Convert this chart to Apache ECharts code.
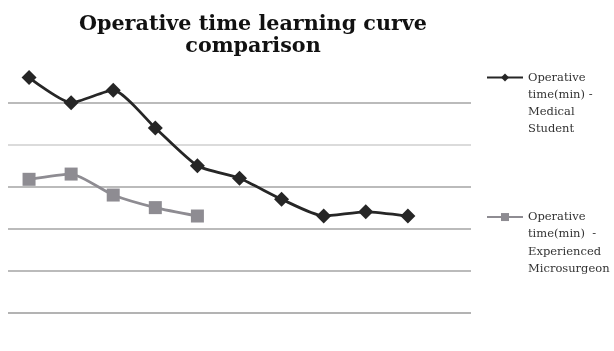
<!DOCTYPE html>
<html>
<head>
<meta charset="utf-8">
<script src="https://cdn.jsdelivr.net/npm/echarts@6/dist/echarts.min.js"></script>
<style>
  html, body { margin: 0; padding: 0; background: #fff; }
  #chart { width: 614px; height: 351px; }
</style>
</head>
<body>
<div id="chart"></div>
<script>
// Session number (1..11); the last session has no recorded times
const sessions = ['1', '2', '3', '4', '5', '6', '7', '8', '9', '10', '11'];

// Operative time in minutes per session
const medicalStudent = [112, 100, 106, 88, 70, 64, 54, 46, 48, 46, null];
const experiencedMicrosurgeon = [63.5, 66, 56, 50, 46, null, null, null, null, null, null];

const seriesNames = [
  'Operative time(min) - Medical Student',
  'Operative time(min) - Experienced Microsurgeon'
];
// Wrapped legend labels; the leading blank lines keep the marker level with the first line
const legendText = {
  [seriesNames[0]]: '\n\n\nOperative\ntime(min) -\nMedical\nStudent',
  [seriesNames[1]]: '\n\n\nOperative\ntime(min)  -\nExperienced\nMicrosurgeon'
};

const chart = echarts.init(document.getElementById('chart'), null, { renderer: 'canvas' });

const legendBase = {
  orient: 'vertical',
  left: 486,
  padding: 0,
  itemWidth: 36,
  itemHeight: 10,
  itemGap: 0,
  formatter: name => legendText[name],
  textStyle: {
    fontFamily: 'DejaVu Serif',
    fontSize: 11.5,
    color: '#333333',
    lineHeight: 17.3
  }
};

chart.setOption({
  animation: false,
  backgroundColor: '#ffffff',
  title: {
    text: 'Operative time learning curve\ncomparison',
    left: 248,
    textAlign: 'center',
    top: 9,
    textStyle: {
      fontFamily: 'DejaVu Serif',
      fontWeight: 'bold',
      fontSize: 20.7,
      lineHeight: 21.7,
      color: '#111111'
    }
  },
  legend: [
    Object.assign({}, legendBase, { top: 17, data: [seriesNames[0]] }),
    Object.assign({}, legendBase, { top: 156.5, data: [seriesNames[1]] })
  ],
  grid: { left: 8, right: 143, top: 60.8, bottom: 38.5 },
  xAxis: {
    type: 'category',
    data: sessions,
    boundaryGap: true,
    axisLine: { show: false },
    axisTick: { show: false },
    axisLabel: { show: false }
  },
  yAxis: {
    type: 'value',
    min: 0,
    max: 120,
    interval: 20,
    axisLine: { show: false },
    axisTick: { show: false },
    axisLabel: { show: false },
    splitLine: {
      show: true,
      lineStyle: {
        width: 1.5,
        color: ['#9a9a9a', '#a4a4a4', '#a4a4a4', '#a4a4a4', '#cfcfcf', '#a4a4a4', 'rgba(0,0,0,0)']
      }
    }
  },
  series: [
    {
      name: seriesNames[0],
      type: 'line',
      data: medicalStudent,
      smooth: 0.2,
      symbol: 'diamond',
      symbolSize: 15,
      lineStyle: { color: '#262626', width: 2.8 },
      itemStyle: { color: '#262626' }
    },
    {
      name: seriesNames[1],
      type: 'line',
      data: experiencedMicrosurgeon,
      smooth: 0.2,
      symbol: 'rect',
      symbolSize: 13,
      lineStyle: { color: '#8e8c92', width: 2.8 },
      itemStyle: { color: '#8e8c92' }
    }
  ]
});
</script>
</body>
</html>
